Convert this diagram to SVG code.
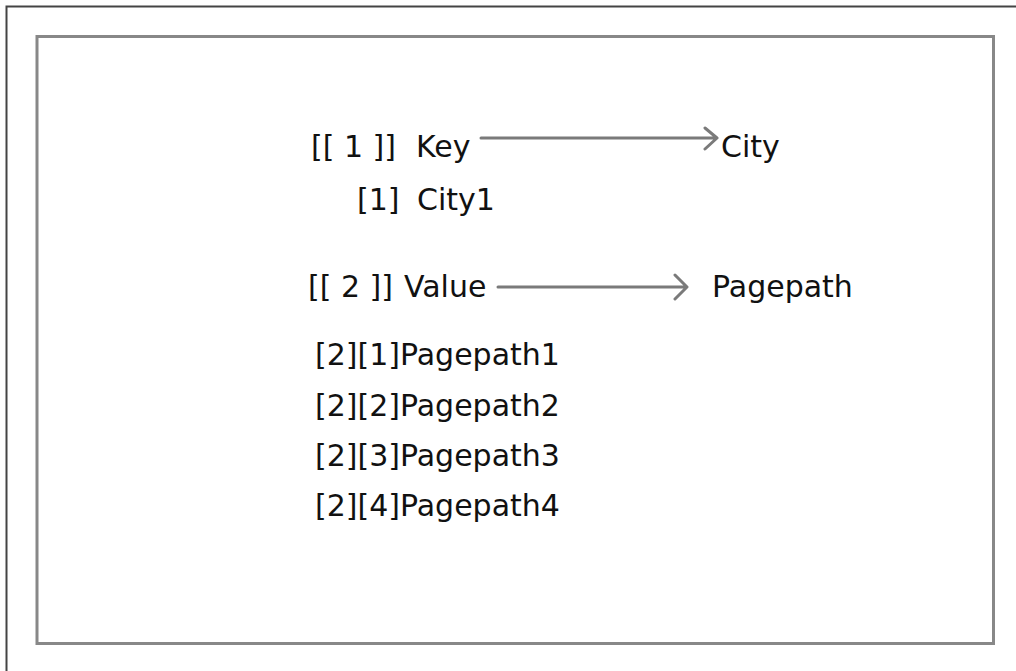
<svg xmlns="http://www.w3.org/2000/svg" width="1016" height="671" viewBox="0 0 1016 671">
<style>
.t{font-family:"DejaVu Sans",sans-serif;font-size:30px;fill:#111}
.c{fill:none;stroke:#7a7a7a;stroke-width:3;stroke-linecap:round;stroke-linejoin:round}
</style>
<rect width="1016" height="671" fill="#fff"/>
<g id="outer-frame"><path d="M6.5 671 V6.5 H1016" fill="none" stroke="#444" stroke-width="2"/></g>
<g id="panel"><rect x="37" y="36.5" width="956.5" height="607" fill="none" stroke="#888" stroke-width="3"/></g>
<g id="connectors">
<path class="c" d="M481 138 H716 M705 128 L717 138 L705 149"/>
<path class="c" d="M498 287 H686 M675 275 L687 287 L675 299"/>
</g>
<g id="key-node"><text class="t" y="157"><tspan x="311">[[ 1 ]]</tspan><tspan x="416">Key</tspan></text></g>
<g id="city-node"><text class="t" x="721" y="157">City</text></g>
<g id="city1-node"><text class="t" y="210"><tspan x="357">[1]</tspan><tspan x="417">City1</tspan></text></g>
<g id="value-node"><text class="t" y="297"><tspan x="308">[[ 2 ]]</tspan><tspan x="404">Value</tspan></text></g>
<g id="pagepath-node"><text class="t" x="712" y="297">Pagepath</text></g>
<g id="pagepath-list">
<text class="t" x="315" y="365">[2][1]Pagepath1</text>
<text class="t" x="315" y="416">[2][2]Pagepath2</text>
<text class="t" x="315" y="466">[2][3]Pagepath3</text>
<text class="t" x="315" y="516">[2][4]Pagepath4</text>
</g>
</svg>
